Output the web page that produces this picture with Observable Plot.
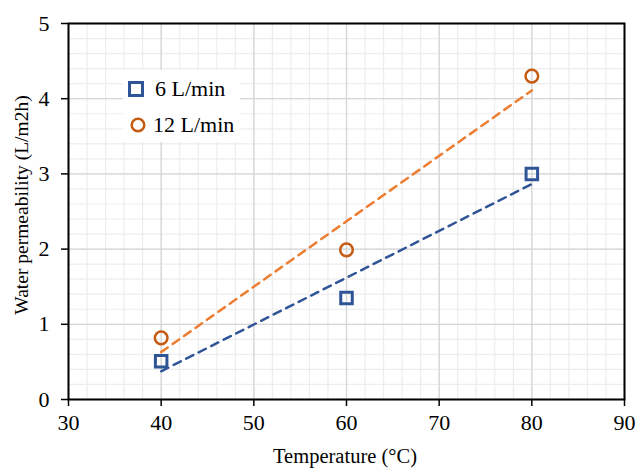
<!DOCTYPE html>
<html>
<head>
<meta charset="utf-8">
<script src="https://cdn.jsdelivr.net/npm/d3@7"></script>
<script src="https://cdn.jsdelivr.net/npm/@observablehq/plot@0.6"></script>
<style>
  html, body { margin: 0; padding: 0; background: #fff; }
  #wrap { position: relative; width: 637px; height: 468px; font-family: "Liberation Serif", "Times New Roman", serif; }
  #legend { position: absolute; left: 123px; top: 70px; width: 117px; height: 72px; background: #fff; font-size: 22px; color: #000; }
  .item { position: absolute; left: 0; display: flex; align-items: center; white-space: nowrap; line-height: 1; }
</style>
</head>
<body>
<div id="wrap"></div>
<script>
const temperature = [40, 60, 80];
const flow6 = [0.51, 1.35, 3.00];
const flow12 = [0.82, 1.99, 4.30];
const seriesNames = ["6 L/min", "12 L/min"];
const xTicks = [30, 40, 50, 60, 70, 80, 90];
const yTicks = [0, 1, 2, 3, 4, 5];
const xTitle = "Temperature (°C)";
const yTitle = "Water permeability (L/m2h)";

const markerColor = {"6 L/min": "#2F5597", "12 L/min": "#C55A11"};
const lineColor = {"6 L/min": "#2F5597", "12 L/min": "#ED7D31"};

const data = [];
temperature.forEach((t, i) => {
  data.push({series: seriesNames[0], t, v: flow6[i]});
  data.push({series: seriesNames[1], t, v: flow12[i]});
});
const d6 = data.filter(d => d.series === seriesNames[0]);
const d12 = data.filter(d => d.series === seriesNames[1]);

const minorX = d3.range(30, 90.001, 2);
const minorY = d3.range(0, 5.001, 0.2);

const chart = Plot.plot({
  width: 637,
  height: 468,
  marginLeft: 68,
  marginRight: 13,
  marginTop: 23,
  marginBottom: 69,
  style: {fontFamily: "Liberation Serif, Times New Roman, serif", color: "#000", background: "#fff"},
  x: {domain: [30, 90]},
  y: {domain: [0, 5]},
  marks: [
    Plot.ruleX(minorX, {stroke: "#EDEDED", strokeWidth: 1.2}),
    Plot.ruleY(minorY, {stroke: "#EDEDED", strokeWidth: 1.2}),
    Plot.ruleX(xTicks, {stroke: "#D6D6D6", strokeWidth: 1.3}),
    Plot.ruleY(yTicks, {stroke: "#D6D6D6", strokeWidth: 1.3}),
    Plot.frame({stroke: "#000", strokeWidth: 2}),
    Plot.axisX({ticks: xTicks, tickSize: 7, tickPadding: 8, tickFormat: d => String(d), stroke: "#000", strokeWidth: 1.5,
      label: null, fontSize: 22}),
    Plot.axisY({ticks: yTicks, tickSize: 7, tickPadding: 12, tickFormat: d => String(d), stroke: "#000", strokeWidth: 1.5,
      label: null, fontSize: 22}),
    Plot.linearRegressionY(d6, {x: "t", y: "v", stroke: lineColor["6 L/min"], strokeWidth: 2.5, strokeDasharray: "8,6", ci: 0}),
    Plot.linearRegressionY(d12, {x: "t", y: "v", stroke: lineColor["12 L/min"], strokeWidth: 2.5, strokeDasharray: "8,6", ci: 0}),
    Plot.dot(d6, {x: "t", y: "v", symbol: "square", r: 6.5, stroke: markerColor["6 L/min"], strokeWidth: 3, fill: "none"}),
    Plot.dot(d12, {x: "t", y: "v", symbol: "circle", r: 6.3, stroke: markerColor["12 L/min"], strokeWidth: 2.5, fill: "none"})
  ]
});

const wrap = document.getElementById("wrap");
wrap.appendChild(chart);
chart.querySelectorAll("g[aria-label$='tick label']").forEach(g => {
  g.setAttribute("font-size", "22");
  g.querySelectorAll("text").forEach(t => { t.setAttribute("font-size", "22"); t.style.fontSize = "22px"; });
});

// axis titles
const svg = d3.select(chart);
svg.append("text")
  .attr("x", 345).attr("y", 463)
  .attr("text-anchor", "middle")
  .attr("font-size", 20.5).attr("fill", "#000")
  .text(xTitle);
svg.append("text")
  .attr("transform", "translate(28,205) rotate(-90)")
  .attr("text-anchor", "middle")
  .attr("font-size", 19.5).attr("fill", "#000")
  .text(yTitle);

// Legend overlay
const legend = document.createElement("div");
legend.id = "legend";
const items = [
  {name: seriesNames[0], top: 8, svg: `<svg width="16" height="16"><rect x="1.5" y="1.5" width="13" height="13" fill="none" stroke="${markerColor[seriesNames[0]]}" stroke-width="3"/></svg>`, gap: 11, left: 5},
  {name: seriesNames[1], top: 44, svg: `<svg width="16" height="16"><circle cx="8" cy="8" r="6.3" fill="none" stroke="${markerColor[seriesNames[1]]}" stroke-width="2.5"/></svg>`, gap: 7, left: 7}
];
items.forEach(it => {
  const el = document.createElement("div");
  el.className = "item";
  el.style.top = it.top + "px";
  el.style.left = it.left + "px";
  el.innerHTML = it.svg + `<span style="margin-left:${it.gap}px">${it.name}</span>`;
  legend.appendChild(el);
});
wrap.appendChild(legend);
</script>
</body>
</html>
